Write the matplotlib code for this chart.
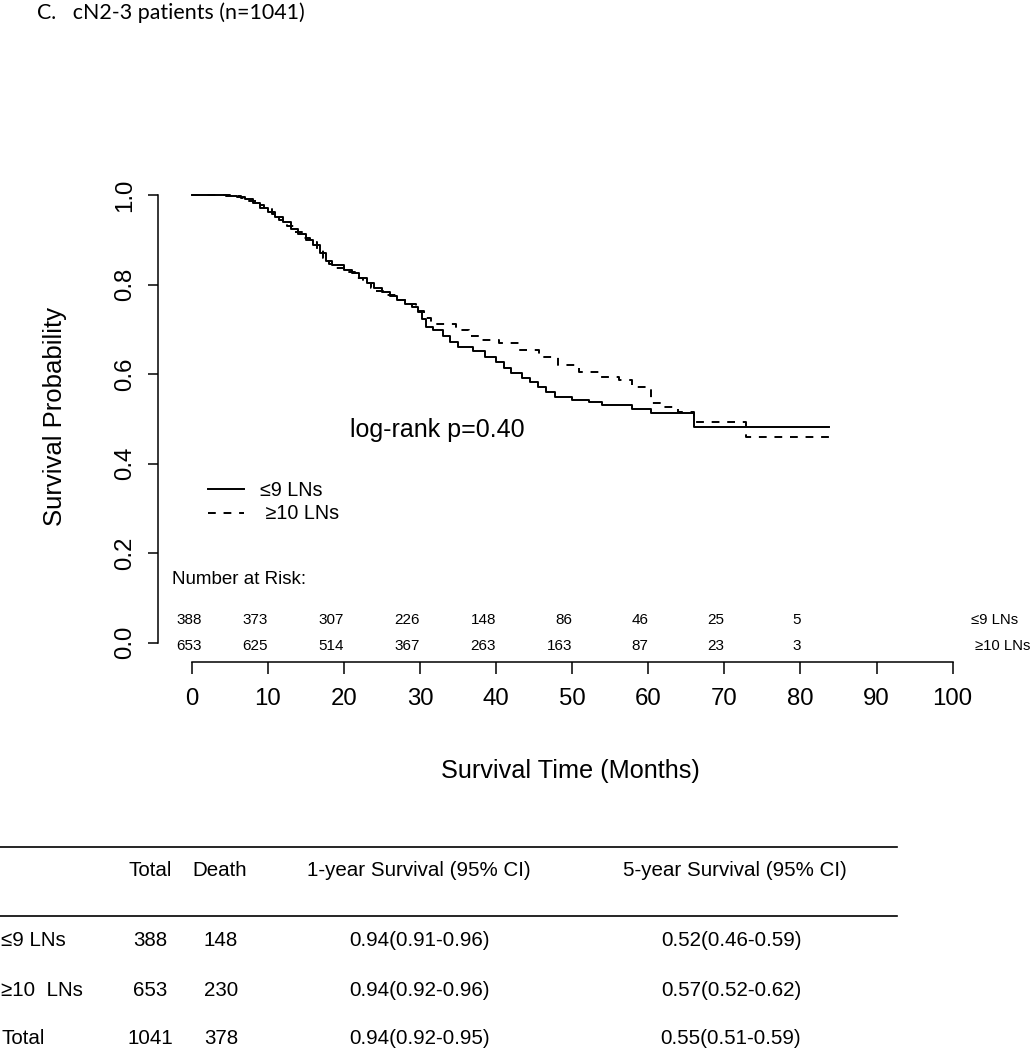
import matplotlib
matplotlib.use('Agg')
import matplotlib.pyplot as plt
from matplotlib.lines import Line2D

plt.rcParams['font.family'] = ['Liberation Sans', 'DejaVu Sans']

# Kaplan-Meier step curves
t_low = [0, 4.5, 6, 7, 8, 9, 10, 11, 12, 13, 14, 15, 16, 16.8, 17.6, 18.5, 20, 21, 22, 23,
         24, 25, 26, 27, 28, 29, 29.8, 30.3, 30.8, 31.7, 33, 34, 35, 37, 38.5, 40, 41, 42,
         43.4, 44.5, 45.5, 46.5, 47.8, 50, 52.2, 53.9, 57.8, 60.3, 66, 83.8]
s_low = [1.0, 0.998, 0.995, 0.99, 0.982, 0.972, 0.962, 0.95, 0.94, 0.925, 0.912, 0.9, 0.888,
         0.87, 0.853, 0.843, 0.833, 0.825, 0.815, 0.803, 0.793, 0.783, 0.775, 0.765, 0.756,
         0.75, 0.738, 0.722, 0.706, 0.698, 0.684, 0.672, 0.661, 0.652, 0.638, 0.626, 0.614,
         0.603, 0.591, 0.582, 0.572, 0.56, 0.549, 0.543, 0.538, 0.531, 0.523, 0.512, 0.482, 0.482]

t_high = [0, 5, 6.5, 7.5, 8.5, 9.5, 10.5, 11.5, 12.5, 13.5, 14.5, 15.5, 16.5, 17.3, 18, 19,
          20.5, 21.5, 22.5, 23.5, 24, 25.5, 27, 28, 29.5, 30.5, 31.5, 34.7, 36.5, 37.7, 40.4,
          43, 45.6, 48.2, 50.9, 53.5, 56.1, 57.8, 60.4, 61.5, 63.9, 66, 72.9, 84.7]
s_high = [1.0, 0.998, 0.993, 0.987, 0.978, 0.968, 0.957, 0.945, 0.93, 0.918, 0.905, 0.895,
          0.877, 0.86, 0.847, 0.838, 0.828, 0.815, 0.803, 0.792, 0.785, 0.776, 0.765, 0.756,
          0.742, 0.725, 0.713, 0.698, 0.686, 0.676, 0.669, 0.654, 0.639, 0.62, 0.605, 0.594,
          0.587, 0.572, 0.535, 0.527, 0.516, 0.494, 0.46, 0.46]

risk_times = [1.3, 10, 20, 30, 40, 50, 60, 70, 80]
risk_low = [388, 373, 307, 226, 148, 86, 46, 25, 5]
risk_high = [653, 625, 514, 367, 263, 163, 87, 23, 3]

groups = ['\u22649 LNs', '\u226510  LNs', 'Total']
totals = [388, 653, 1041]
deaths = [148, 230, 378]
surv1 = ['0.94(0.91-0.96)', '0.94(0.92-0.96)', '0.94(0.92-0.95)']
surv5 = ['0.52(0.46-0.59)', '0.57(0.52-0.62)', '0.55(0.51-0.59)']

W, H = 1032, 1050
fig = plt.figure(figsize=(W / 100, H / 100), dpi=100)

def px(x, y):
    return x / W, 1 - y / H

ax = fig.add_axes([158.3 / W, 1 - 661.7 / H, (983.1 - 158.3) / W, (661.7 - 177.1) / H])
ax.set_xlim(-4.39, 104)
ax.set_ylim(-0.0424, 1.04)

ax.step(t_low, s_low, where='post', color='black', lw=1.4, label='\u22649 LNs')
ax.step(t_high, s_high, where='post', color='black', lw=1.4, linestyle=(0, (4, 4)),
        label=' \u226510 LNs')

for s in ['top', 'right']:
    ax.spines[s].set_visible(False)
ax.spines['left'].set_bounds(0, 1)
ax.spines['bottom'].set_bounds(0, 100)
ax.spines['left'].set_linewidth(1.1)
ax.spines['bottom'].set_linewidth(1.1)

ax.set_xticks(range(0, 101, 10))
ax.set_yticks([0, 0.2, 0.4, 0.6, 0.8, 1.0])
ax.set_yticklabels(['0.0', '0.2', '0.4', '0.6', '0.8', '1.0'], rotation=90, va='center')
ax.tick_params(axis='x', length=8.6, width=1.1, pad=10, labelsize=17.3)
ax.tick_params(axis='y', length=7.2, width=1.1, pad=9, labelsize=17.3)

ax.legend(loc='center left', bbox_to_anchor=(0.0603, 0.3296), frameon=False, fontsize=14.2,
          handlelength=1.8, handletextpad=0.85, labelspacing=0.25, borderpad=0,
          borderaxespad=0)

ax.text(20.8, 0.475, 'log-rank p=0.40', fontsize=18, va='center', ha='left')
ax.text(-2.59, 0.142, 'Number at Risk:', fontsize=13.5, va='center', ha='left')
for t, a, b in zip(risk_times, risk_low, risk_high):
    ax.text(t, 0.0507, str(a), fontsize=11, ha='right', va='center')
    ax.text(t, -0.0074, str(b), fontsize=11, ha='right', va='center')
ax.text(102.4, 0.0507, '\u22649 LNs', fontsize=10.7, ha='left', va='center', clip_on=False)
ax.text(102.9, -0.0074, '\u226510 LNs', fontsize=10.7, ha='left', va='center', clip_on=False)

fig.text(*px(570, 771), 'Survival Time (Months)', fontsize=18.2, ha='center', va='center')
fig.text(*px(55, 417), 'Survival Probability', fontsize=18.5, ha='center', va='center',
         rotation=90)

fig.text(*px(37, 13), 'C.   cN2-3 patients (n=1041)', fontsize=15.4, ha='left', va='center',
         family='Lato')

# summary table under the plot
for yl in [847, 916]:
    fig.add_artist(Line2D([0, 897 / W], [1 - yl / H, 1 - yl / H], color='black', lw=1.2))
tfs = 14.8
hy = 871
fig.text(*px(150, hy), 'Total', fontsize=tfs, ha='center', va='center')
fig.text(*px(220, hy), 'Death', fontsize=tfs, ha='center', va='center')
fig.text(*px(419, hy), '1-year Survival (95% CI)', fontsize=tfs, ha='center', va='center')
fig.text(*px(735, hy), '5-year Survival (95% CI)', fontsize=tfs, ha='center', va='center')
for i, yy in enumerate([941, 990, 1039]):
    fig.text(*px(1, yy), groups[i], fontsize=tfs, ha='left', va='center')
    fig.text(*px(150, yy), str(totals[i]), fontsize=tfs, ha='center', va='center')
    fig.text(*px(221, yy), str(deaths[i]), fontsize=tfs, ha='center', va='center')
    fig.text(*px(420, yy), surv1[i], fontsize=tfs, ha='center', va='center')
    fig.text(*px(731, yy), surv5[i], fontsize=tfs, ha='center', va='center')

fig.savefig('out.png', dpi=100)
